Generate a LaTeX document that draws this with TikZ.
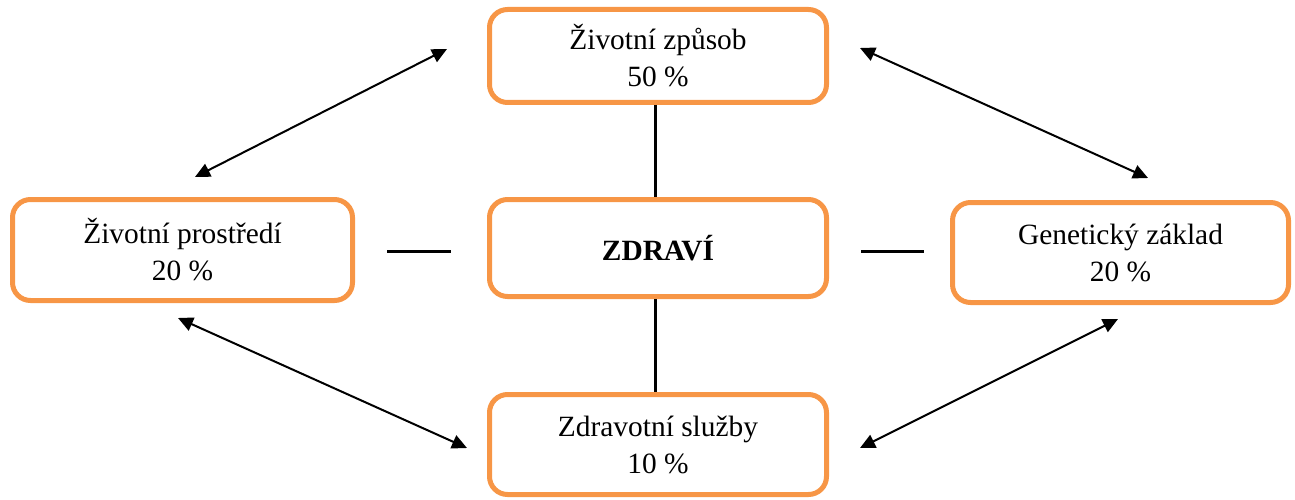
\documentclass[tikz,border=0pt]{standalone}
\usepackage{fontspec}
\setmainfont{Liberation Serif}
\usetikzlibrary{arrows.meta}
\definecolor{boxorange}{HTML}{F79646}

\begin{document}
\begin{tikzpicture}[x=1pt, y=-1pt,
	factor/.style={shape=rectangle, draw=boxorange, line width=5pt, rounded corners=18pt, inner sep=0pt, align=center, font=\fontsize{29.4}{37}\selectfont},
	link/.style={line width=3pt},
	both/.style={line width=2pt, {Triangle[length=15pt, width=14pt]}-{Triangle[length=15pt, width=14pt]}}]
			\useasboundingbox (0, 0) rectangle (1295, 500);
			\node[factor, minimum width=337pt, minimum height=93pt](Zpusob) at (658, 56){Životní způsob\\50 \%};
			\node[factor, minimum width=340pt, minimum height=101pt](Prostredi) at (182.5, 250){Životní prostředí\\20 \%};
			\node[factor, minimum width=337pt, minimum height=97pt](Zdravi) at (658, 248){\textbf{ZDRAVÍ}};
			\node[factor, minimum width=336pt, minimum height=100pt](Geny) at (1120.5, 252.5){Genetický základ\\20 \%};
			\node[factor, minimum width=337pt, minimum height=100pt](Sluzby) at (658, 444.5){Zdravotní služby\\10 \%};
			\draw[link] (Zpusob.south -| 655, 0) -- (Zdravi.north -| 655, 0);
			\draw[link] (Zdravi.south -| 655, 0) -- (Sluzby.north -| 655, 0);
			\coordinate (L1) at (387, 251);
			\coordinate (L2) at (451, 251);
			\coordinate (R1) at (861, 251);
			\coordinate (R2) at (924, 251);
			\draw[link] (L1) -- (L2);
			\draw[link] (R1) -- (R2);
			\coordinate (A1) at (447, 49);
			\coordinate (A2) at (195, 177);
			\coordinate (B1) at (860, 48);
			\coordinate (B2) at (1148, 178);
			\coordinate (C1) at (178, 318);
			\coordinate (C2) at (467, 448);
			\coordinate (D1) at (1118, 319);
			\coordinate (D2) at (860, 448);
			\draw[both] (A1) -- (A2);
			\draw[both] (B1) -- (B2);
			\draw[both] (C1) -- (C2);
			\draw[both] (D1) -- (D2);
		\end{tikzpicture}
\end{document}
